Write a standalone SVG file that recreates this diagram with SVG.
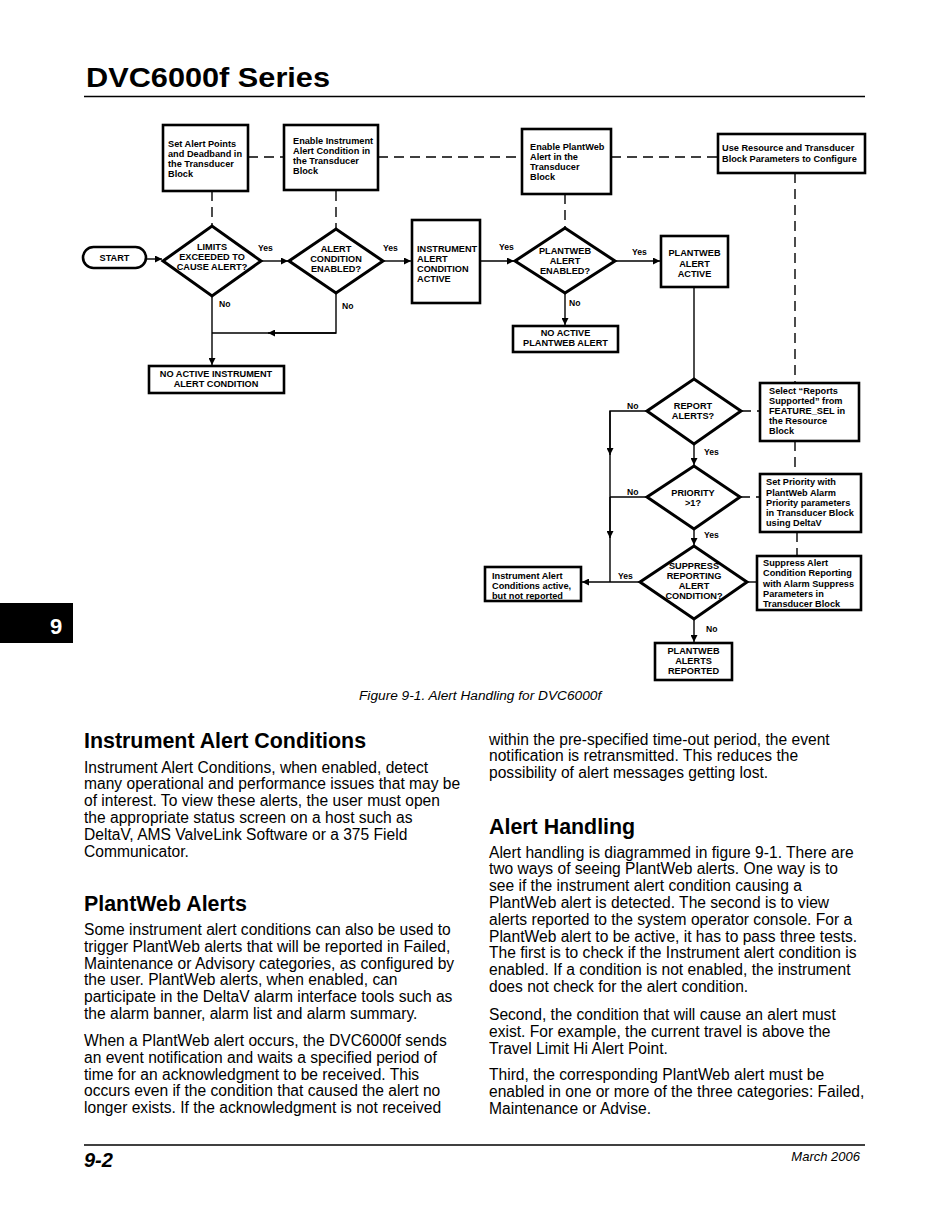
<svg xmlns="http://www.w3.org/2000/svg" width="950" height="1229" viewBox="0 0 950 1229">
<style>
.box{fill:#fff;stroke:#000;stroke-width:2.6}
.dia{fill:#fff;stroke:#000;stroke-width:3}
.ln{fill:none;stroke:#000;stroke-width:1.4}
.dash{fill:none;stroke:#000;stroke-width:1.4;stroke-dasharray:10,6}
.t{font-family:"Liberation Sans",Arial,sans-serif;font-weight:bold;font-size:9.2px;fill:#000}
.c{text-anchor:middle}
.lbl{font-family:"Liberation Sans",Arial,sans-serif;font-weight:bold;font-size:8.6px;fill:#000}
.body{font-family:"Liberation Sans",Arial,sans-serif;font-size:15.6px;fill:#000}
.h2{font-family:"Liberation Sans",Arial,sans-serif;font-weight:bold;font-size:21.4px;fill:#000}
</style>
<defs>
<marker id="ah" viewBox="0 0 10 10" refX="10" refY="5" markerWidth="8" markerHeight="7" markerUnits="userSpaceOnUse" orient="auto">
<path d="M0,0 L10,5 L0,10 z" fill="#000"/>
</marker>
</defs>
<rect width="950" height="1229" fill="#fff"/>

<!-- page header -->
<text x="86" y="87" font-family="Liberation Sans,Arial,sans-serif" font-weight="bold" font-size="28" textLength="244" lengthAdjust="spacingAndGlyphs">DVC6000f Series</text>
<line x1="84" y1="96.5" x2="865" y2="96.5" stroke="#000" stroke-width="1.5"/>

<!-- connectors -->
<g id="connectors">
<path class="dash" d="M248,157 H284 M378,157 H522 M611,157 H718"/>
<path class="dash" d="M212,191 V226 M336,191 V229 M565,194 V228 M795,173 V383 M795,441 V474 M797,532 V556 M741,411 H760 M740,497 H760"/>
<path class="ln" d="M747,582 H757"/>
<path class="ln" d="M146,259 H162" marker-end="url(#ah)"/>
<path class="ln" d="M262,261 H288" marker-end="url(#ah)"/>
<path class="ln" d="M384,261 H411" marker-end="url(#ah)"/>
<path class="ln" d="M480,261 H514" marker-end="url(#ah)"/>
<path class="ln" d="M616,261 H660" marker-end="url(#ah)"/>
<path class="ln" d="M565,293 V325" marker-end="url(#ah)"/>
<path class="ln" d="M212,297 V365" marker-end="url(#ah)"/>
<path class="ln" d="M336,293 V333 H212"/>
<path class="ln" d="M336,333 H268" marker-end="url(#ah)"/>
<path class="ln" d="M694,287 V379"/>
<path class="ln" d="M694,444 V465" marker-end="url(#ah)"/>
<path class="ln" d="M694,529 V545" marker-end="url(#ah)"/>
<path class="ln" d="M694,619 V642" marker-end="url(#ah)"/>
<path class="ln" d="M647,411 H610 V582"/>
<path class="ln" d="M610,411 V455" marker-end="url(#ah)"/>
<path class="ln" d="M610,497 V538" marker-end="url(#ah)"/>
<path class="ln" d="M647,497 H610"/>
<path class="ln" d="M640,582 H582" marker-end="url(#ah)"/>
</g>

<!-- connector labels -->
<g id="labels" class="lbl">
<text x="258" y="251">Yes</text>
<text x="383" y="251">Yes</text>
<text x="499" y="250">Yes</text>
<text x="632" y="255">Yes</text>
<text x="219" y="307">No</text>
<text x="342" y="309">No</text>
<text x="569" y="306">No</text>
<text x="627" y="409">No</text>
<text x="704" y="455">Yes</text>
<text x="627" y="495">No</text>
<text x="704" y="538">Yes</text>
<text x="618" y="579">Yes</text>
<text x="706" y="632">No</text>
</g>

<g id="n-box1"><rect class="box" x="163" y="125" width="85" height="66"/>
<text class="t" x="168" y="147">Set Alert Points</text><text class="t" x="168" y="157">and Deadband in</text><text class="t" x="168" y="167">the Transducer</text><text class="t" x="168" y="177">Block</text></g>

<g id="n-box2"><rect class="box" x="284" y="125" width="94" height="65"/>
<text class="t" x="293" y="144">Enable Instrument</text><text class="t" x="293" y="154">Alert Condition in</text><text class="t" x="293" y="164">the Transducer</text><text class="t" x="293" y="174">Block</text></g>

<g id="n-box3"><rect class="box" x="522" y="129" width="89" height="65"/>
<text class="t" x="530" y="150">Enable PlantWeb</text><text class="t" x="530" y="160">Alert in the</text><text class="t" x="530" y="170">Transducer</text><text class="t" x="530" y="180">Block</text></g>

<g id="n-box4"><rect class="box" x="718" y="134" width="147" height="39"/>
<text class="t" x="722" y="151">Use Resource and Transducer</text><text class="t" x="722" y="162">Block Parameters to Configure</text></g>

<g id="n-start"><rect class="box" x="83" y="247" width="63" height="21" rx="10.5"/>
<text class="t c" x="114.5" y="261">START</text></g>

<g id="n-limits"><polygon class="dia" points="163,261 212,226 261,261 212,296"/>
<text class="t c" x="212" y="250">LIMITS</text><text class="t c" x="212" y="260">EXCEEDED TO</text><text class="t c" x="212" y="270">CAUSE ALERT?</text></g>

<g id="n-enabled"><polygon class="dia" points="289,261 336,229 383,261 336,293"/>
<text class="t c" x="336" y="252">ALERT</text><text class="t c" x="336" y="262">CONDITION</text><text class="t c" x="336" y="272">ENABLED?</text></g>

<g id="n-iaca"><rect class="box" x="412" y="220" width="68" height="83"/>
<text class="t" x="417" y="252">INSTRUMENT</text><text class="t" x="417" y="262">ALERT</text><text class="t" x="417" y="272">CONDITION</text><text class="t" x="417" y="282">ACTIVE</text></g>

<g id="n-pwenabled"><polygon class="dia" points="515,261 565,228 615,261 565,293"/>
<text class="t c" x="565" y="254">PLANTWEB</text><text class="t c" x="565" y="264">ALERT</text><text class="t c" x="565" y="274">ENABLED?</text></g>

<g id="n-nopw"><rect class="box" x="513" y="326" width="105" height="26"/>
<text class="t c" x="565.5" y="336">NO ACTIVE</text><text class="t c" x="565.5" y="346">PLANTWEB ALERT</text></g>

<g id="n-noinst"><rect class="box" x="149" y="366" width="135" height="27"/>
<text class="t c" x="216" y="377">NO ACTIVE INSTRUMENT</text><text class="t c" x="216" y="387">ALERT CONDITION</text></g>

<g id="n-pwactive"><rect class="box" x="661" y="236" width="67" height="51"/>
<text class="t c" x="694.5" y="256">PLANTWEB</text><text class="t c" x="694.5" y="267">ALERT</text><text class="t c" x="694.5" y="277">ACTIVE</text></g>

<g id="n-report"><polygon class="dia" points="647,411 694,379 741,411 694,444"/>
<text class="t c" x="693" y="409">REPORT</text><text class="t c" x="693" y="419">ALERTS?</text></g>

<g id="n-select"><rect class="box" x="760" y="383" width="99" height="58"/>
<text class="t" x="769" y="394">Select “Reports</text><text class="t" x="769" y="404">Supported” from</text><text class="t" x="769" y="414">FEATURE_SEL in</text><text class="t" x="769" y="424">the Resource</text><text class="t" x="769" y="434">Block</text></g>

<g id="n-priority"><polygon class="dia" points="647,497 694,466 740,497 694,529"/>
<text class="t c" x="693" y="496">PRIORITY</text><text class="t c" x="693" y="506">&gt;1?</text></g>

<g id="n-setprio"><rect class="box" x="760" y="474" width="101" height="58"/>
<text class="t" x="766" y="485">Set Priority with</text><text class="t" x="766" y="496">PlantWeb Alarm</text><text class="t" x="766" y="506">Priority parameters</text><text class="t" x="766" y="516">in Transducer Block</text><text class="t" x="766" y="526">using DeltaV</text></g>

<g id="n-suppress"><polygon class="dia" points="640,582 694,546 747,582 694,619"/>
<text class="t c" x="694" y="569">SUPPRESS</text><text class="t c" x="694" y="579">REPORTING</text><text class="t c" x="694" y="589">ALERT</text><text class="t c" x="694" y="599">CONDITION?</text></g>

<g id="n-suppbox"><rect class="box" x="757" y="556" width="104" height="54"/>
<text class="t" x="763" y="566">Suppress Alert</text><text class="t" x="763" y="576">Condition Reporting</text><text class="t" x="763" y="587">with Alarm Suppress</text><text class="t" x="763" y="597">Parameters in</text><text class="t" x="763" y="607">Transducer Block</text></g>

<g id="n-notrep"><rect class="box" x="485" y="567" width="96" height="34"/>
<text class="t" x="492" y="579">Instrument Alert</text><text class="t" x="492" y="589">Conditions active,</text><text class="t" x="492" y="599">but not reported</text></g>

<g id="n-reported"><rect class="box" x="655" y="643" width="77" height="37"/>
<text class="t c" x="693.5" y="654">PLANTWEB</text><text class="t c" x="693.5" y="664">ALERTS</text><text class="t c" x="693.5" y="674">REPORTED</text></g>

<!-- caption -->
<text x="359" y="700" font-family="Liberation Sans,Arial,sans-serif" font-style="italic" font-size="13.7">Figure 9-1. Alert Handling for DVC6000f</text>

<!-- page tab -->
<rect x="0" y="603" width="73" height="40" fill="#000"/>
<text x="56" y="634" text-anchor="middle" font-family="Liberation Sans,Arial,sans-serif" font-weight="bold" font-size="22" fill="#fff">9</text>

<!-- left column -->
<text class="h2" x="84" y="748">Instrument Alert Conditions</text>
<g class="body">
<text x="84" y="772.5">Instrument Alert Conditions, when enabled, detect</text>
<text x="84" y="789.3">many operational and performance issues that may be</text>
<text x="84" y="806.1">of interest. To view these alerts, the user must open</text>
<text x="84" y="822.9">the appropriate status screen on a host such as</text>
<text x="84" y="839.7">DeltaV, AMS ValveLink Software or a 375 Field</text>
<text x="84" y="856.5">Communicator.</text>
</g>
<text class="h2" x="84" y="911">PlantWeb Alerts</text>
<g class="body">
<text x="84" y="935">Some instrument alert conditions can also be used to</text>
<text x="84" y="951.8">trigger PlantWeb alerts that will be reported in Failed,</text>
<text x="84" y="968.6">Maintenance or Advisory categories, as configured by</text>
<text x="84" y="985.4">the user. PlantWeb alerts, when enabled, can</text>
<text x="84" y="1002.2">participate in the DeltaV alarm interface tools such as</text>
<text x="84" y="1019">the alarm banner, alarm list and alarm summary.</text>
<text x="84" y="1046">When a PlantWeb alert occurs, the DVC6000f sends</text>
<text x="84" y="1062.8">an event notification and waits a specified period of</text>
<text x="84" y="1079.6">time for an acknowledgment to be received. This</text>
<text x="84" y="1096.4">occurs even if the condition that caused the alert no</text>
<text x="84" y="1113.2">longer exists. If the acknowledgment is not received</text>
</g>

<!-- right column -->
<g class="body">
<text x="489" y="744.5">within the pre-specified time-out period, the event</text>
<text x="489" y="761.3">notification is retransmitted. This reduces the</text>
<text x="489" y="778.1">possibility of alert messages getting lost.</text>
</g>
<text class="h2" x="489" y="834">Alert Handling</text>
<g class="body">
<text x="489" y="857.5">Alert handling is diagrammed in figure 9-1. There are</text>
<text x="489" y="874.3">two ways of seeing PlantWeb alerts. One way is to</text>
<text x="489" y="891.1">see if the instrument alert condition causing a</text>
<text x="489" y="907.9">PlantWeb alert is detected. The second is to view</text>
<text x="489" y="924.7">alerts reported to the system operator console. For a</text>
<text x="489" y="941.5">PlantWeb alert to be active, it has to pass three tests.</text>
<text x="489" y="958.3">The first is to check if the Instrument alert condition is</text>
<text x="489" y="975.1">enabled. If a condition is not enabled, the instrument</text>
<text x="489" y="991.9">does not check for the alert condition.</text>
<text x="489" y="1020">Second, the condition that will cause an alert must</text>
<text x="489" y="1036.8">exist. For example, the current travel is above the</text>
<text x="489" y="1053.6">Travel Limit Hi Alert Point.</text>
<text x="489" y="1080">Third, the corresponding PlantWeb alert must be</text>
<text x="489" y="1096.8">enabled in one or more of the three categories: Failed,</text>
<text x="489" y="1113.6">Maintenance or Advise.</text>
</g>

<!-- footer -->
<line x1="84" y1="1145" x2="865" y2="1145" stroke="#000" stroke-width="1.5"/>
<text x="84" y="1167" font-family="Liberation Sans,Arial,sans-serif" font-weight="bold" font-style="italic" font-size="20">9-2</text>
<text x="860" y="1161" text-anchor="end" font-family="Liberation Sans,Arial,sans-serif" font-style="italic" font-size="13">March 2006</text>
</svg>
